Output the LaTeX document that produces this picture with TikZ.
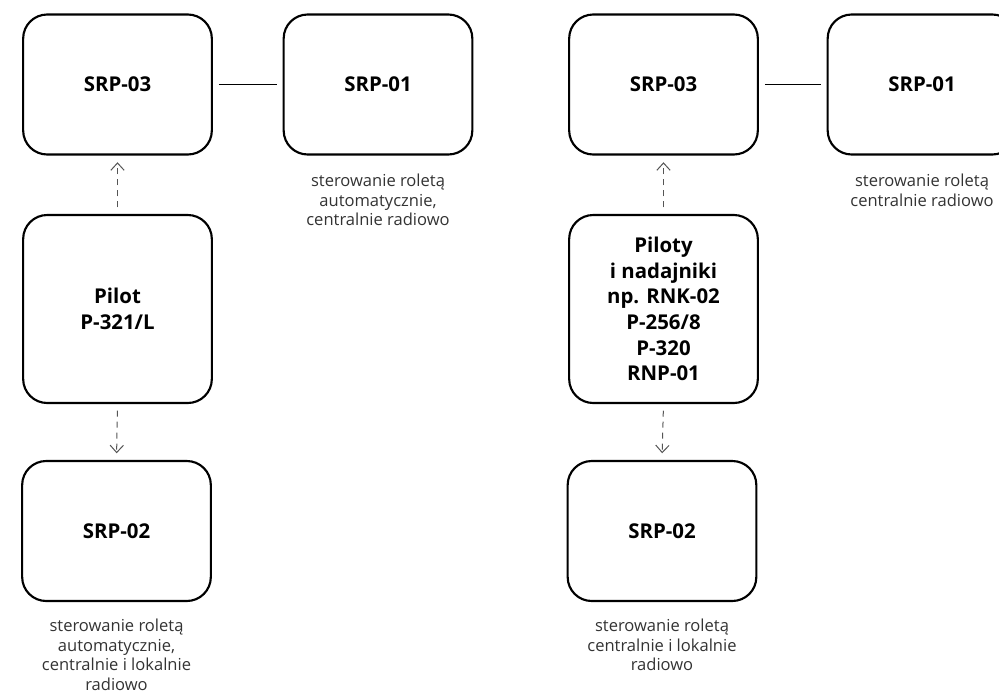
\documentclass[tikz,border=0pt]{standalone}
\usepackage{fontspec}
\setmainfont{Open Sans}
\usetikzlibrary{arrows.meta}
\definecolor{captxt}{HTML}{333333}
\definecolor{dashcol}{HTML}{555555}
\tikzset{
  unitbox/.style={draw=black, line width=1.6pt, rounded corners=18pt, minimum width=141.5pt, align=center, font=\fontsize{15.3}{19.3}\selectfont\bfseries, inner sep=0pt},
  shortbox/.style={unitbox, minimum height=105pt},
  tallbox/.style={unitbox, minimum height=141pt},
  caption/.style={align=center, text=captxt, font=\fontsize{12.4}{14.6}\selectfont, inner sep=0pt, anchor=north},
  dasharrow/.style={draw=dashcol, line width=0.75pt, dash pattern=on 4.5pt off 3.75pt, -{Straight Barb[length=5.5pt, width=10pt, line width=0.75pt]}, shorten <=5pt, shorten >=5pt},
  joinline/.style={draw=black, line width=0.75pt, shorten <=4.5pt, shorten >=4.5pt}
}
\begin{document}
\begin{tikzpicture}[x=0.75pt, y=-0.75pt]
\useasboundingbox (0,0) rectangle (999,693);
\clip (0,0) rectangle (999,693);
% left group
\node[shortbox] (l03) at (117.5,84.5) {SRP-03};
\node[shortbox] (l01) at (378,84.5) {SRP-01};
\node[tallbox] (lpil) at (117.5,309) {Pilot\\P-321/L};
\node[shortbox] (l02) at (116.5,531) {SRP-02};
\node[caption] (lc1) at (378,174) {sterowanie roletą\\automatycznie,\\centralnie radiowo};
\node[caption] (lc2) at (116.5,619) {sterowanie roletą\\automatycznie,\\centralnie i lokalnie\\radiowo};
\draw[joinline] (l03.east) -- (l01.west);
\draw[dasharrow] (lpil.north) -- (l03.south);
\draw[dasharrow] (lpil.south) -- (l02.north);
% right group
\node[shortbox] (r03) at (663.5,84.5) {SRP-03};
\node[shortbox] (r01) at (922,84.5) {SRP-01};
\node[tallbox] (rpil) at (663.5,309) {Piloty\\i nadajniki\\np. RNK-02\\P-256/8\\P-320\\RNP-01};
\node[shortbox] (r02) at (662,531) {SRP-02};
\node[caption] (rc1) at (922,174) {sterowanie roletą\\centralnie radiowo};
\node[caption] (rc2) at (662,619) {sterowanie roletą\\centralnie i lokalnie\\radiowo};
\draw[joinline] (r03.east) -- (r01.west);
\draw[dasharrow] (rpil.north) -- (r03.south);
\draw[dasharrow] (rpil.south) -- (r02.north);
\end{tikzpicture}
\end{document}
